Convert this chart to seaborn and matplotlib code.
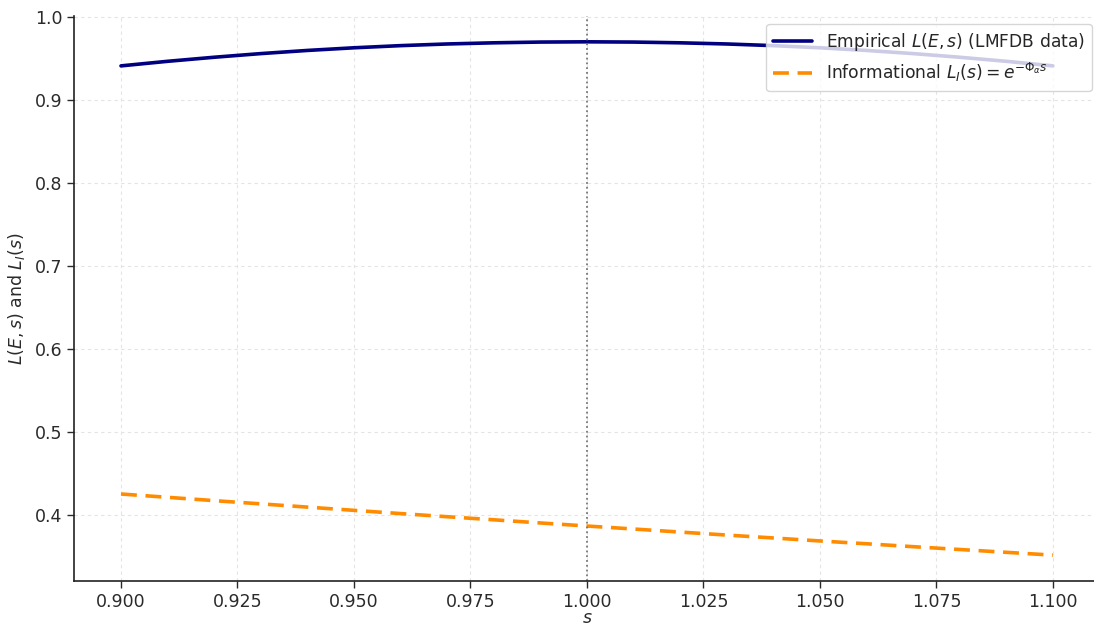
import matplotlib
matplotlib.use("Agg")
import matplotlib.pyplot as plt
import seaborn as sns
import pandas as pd

# Sample points in s
s_values = [0.90, 0.91, 0.92, 0.93, 0.94, 0.95, 0.96, 0.97, 0.98, 0.99, 1.00,
            1.01, 1.02, 1.03, 1.04, 1.05, 1.06, 1.07, 1.08, 1.09, 1.10]

# Empirical L(E, s) from LMFDB data
empirical_L = [0.9410, 0.9465, 0.9514, 0.9558, 0.9596, 0.9628, 0.9654, 0.9674,
               0.9688, 0.9697, 0.9700, 0.9697, 0.9688, 0.9674, 0.9654, 0.9628,
               0.9596, 0.9558, 0.9514, 0.9465, 0.9410]

# Informational L_I(s)
informational_L = [0.4249, 0.4209, 0.4169, 0.4130, 0.4091, 0.4052, 0.4013, 0.3975,
                   0.3938, 0.3900, 0.3863, 0.3827, 0.3790, 0.3754, 0.3719, 0.3683,
                   0.3649, 0.3614, 0.3580, 0.3546, 0.3512]

x_ticks = [0.900, 0.925, 0.950, 0.975, 1.000, 1.025, 1.050, 1.075, 1.100]
y_ticks = [0.4, 0.5, 0.6, 0.7, 0.8, 0.9, 1.0]
critical_s = 1.0

df = pd.DataFrame({"s": s_values, "emp": empirical_L, "info": informational_L})

sns.set_theme(style="ticks")
plt.rcParams["font.family"] = ["DejaVu Sans"]

fig = plt.figure(figsize=(10.94, 6.26), dpi=100)
ax = fig.add_axes([0.068, 0.0722, 0.937, 0.902])

sns.lineplot(data=df, x="s", y="emp", ax=ax, color="#000080", linewidth=2.6,
             label=r"Empirical $L(E,s)$ (LMFDB data)")
sns.lineplot(data=df, x="s", y="info", ax=ax, color="#ff8c00", linewidth=2.6,
             linestyle=(0, (4.4, 2.4)), label=r"Informational $L_I(s) = e^{-\Phi_\alpha s}$")
ax.axvline(critical_s, color="#777777", linestyle=":", linewidth=1.3)

ax.set_xticks(x_ticks)
ax.set_xticklabels([f"{t:.3f}" for t in x_ticks])
ax.set_yticks(y_ticks)
ax.set_yticklabels([f"{t:.1f}" for t in y_ticks])
ax.tick_params(axis="both", labelsize=12.5, colors="#2a2a2a", length=5, width=1)
ax.grid(True, linestyle=(0, (3, 3)), color="#e4e4e4", linewidth=0.8)
ax.set_axisbelow(True)

ax.set_xlabel(r"$s$", fontsize=12.5, color="#2a2a2a", labelpad=-1.5)
ax.set_ylabel(r"$L(E,s)$ and $L_I(s)$", fontsize=12.5, color="#2a2a2a", labelpad=6)
sns.despine(ax=ax)
for sp in ["left", "bottom"]:
    ax.spines[sp].set_color("#222222")
    ax.spines[sp].set_linewidth(1.2)

ax.legend(loc="upper right", fontsize=12.3, framealpha=0.8, borderaxespad=0.45,
          handlelength=2.3)

fig.savefig("out.png", dpi=100)
